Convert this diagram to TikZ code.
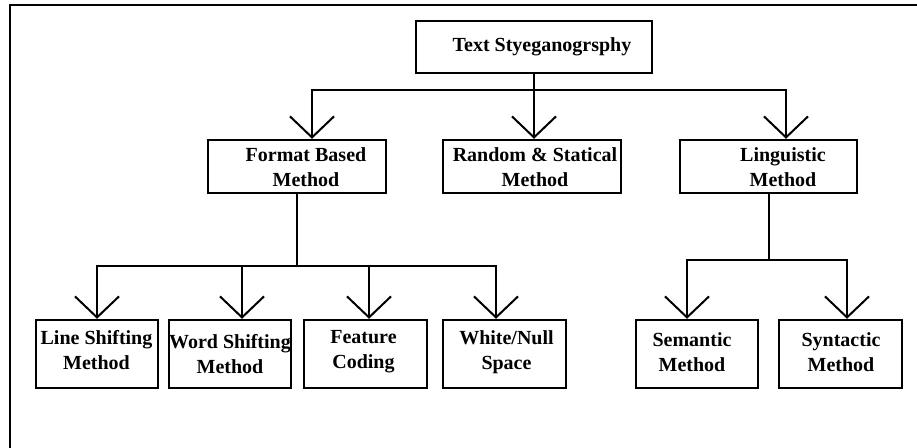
\documentclass[tikz,border=0pt]{standalone}
\usepackage{fontspec}
\setmainfont{Liberation Serif}
\usetikzlibrary{arrows.meta}
\begin{document}
\begin{tikzpicture}[x=0.5pt,y=-0.5pt,
  box/.style={draw, line width=1.2pt, inner sep=0pt},
  txt/.style={inner sep=0pt, align=center, font=\fontsize{10}{12.5}\selectfont\bfseries},
  conn/.style={line width=1pt},
  arr/.style={line width=1pt, -{Straight Barb[length=10.5pt,width=22pt]}}]
\useasboundingbox (0,0) rectangle (917,448);
% frame
\draw[line width=1pt] (10,448) -- (10,5) -- (917,5);
% boxes
\node[box, minimum width=118pt, minimum height=26pt] (top) at (534,47) {};
\node[txt] (topt) at (542,47) {Text Styeganogrsphy};
\node[box, minimum width=89pt, minimum height=26.5pt] (fmt) at (297,166.5) {};
\node[txt] (fmtt) at (306,167) {Format Based\\Method};
\node[box, minimum width=89pt, minimum height=26.5pt] (rnd) at (532,166.5) {};
\node[txt] (rndt) at (535,167) {Random \& Statical\\Method};
\node[box, minimum width=88.5pt, minimum height=26.5pt] (lng) at (768.5,166.5) {};
\node[txt] (lngt) at (783,167) {Linguistic\\Method};
\node[box, minimum width=61pt, minimum height=34pt] (ls) at (97,354) {};
\node[txt] (lst) at (96.5,350) {Line Shifting\\Method};
\node[box, minimum width=61pt, minimum height=34pt] (ws) at (230,354) {};
\node[txt] (wst) at (230,354) {Word Shifting\\Method};
\node[box, minimum width=61.5pt, minimum height=34pt] (fc) at (365.5,354) {};
\node[txt] (fct) at (363.5,352) {Feature\\Coding};
\node[box, minimum width=61.5pt, minimum height=34pt] (wn) at (504.5,354) {};
\node[txt] (wnt) at (506.5,352.5) {White/Null\\Space};
\node[box, minimum width=61pt, minimum height=34pt] (sem) at (697,354) {};
\node[txt] (semt) at (692,352.5) {Semantic\\Method};
\node[box, minimum width=61.5pt, minimum height=34pt] (syn) at (840.5,354) {};
\node[txt] (synt) at (841,352.5) {Syntactic\\Method};
% junctions
\coordinate (j1) at (534,90);
\coordinate (j2) at (297,266);
\coordinate (j3) at (769,260);
% level 1
\draw[arr] (top.south) -- ([xshift=1pt]rnd.north);
\draw[arr] (j1) -| ([xshift=7.5pt]fmt.north);
\draw[arr] (j1) -| ([xshift=8.75pt]lng.north);
% format children
\draw[conn] (fmt.south) -- (j2);
\draw[arr] (j2) -| (ls.north);
\draw[arr] (j2) -| ([xshift=6pt]ws.north);
\draw[arr] (j2) -| ([xshift=1.75pt]fc.north);
\draw[arr] (j2) -| ([xshift=-4.25pt]wn.north);
% linguistic children
\draw[conn] ([xshift=0.25pt]lng.south) -- (j3);
\draw[arr] (j3) -| ([xshift=-5pt]sem.north);
\draw[arr] (j3) -| ([xshift=3.25pt]syn.north);
\end{tikzpicture}
\end{document}
